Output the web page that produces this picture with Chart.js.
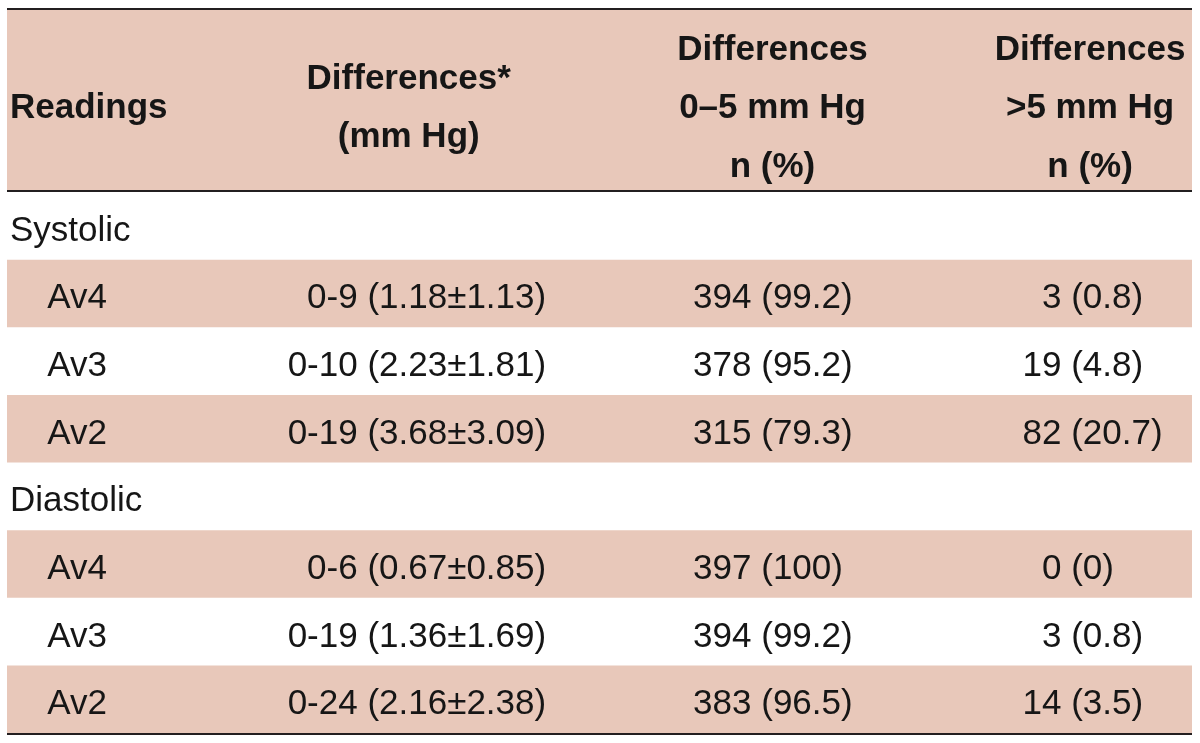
<!DOCTYPE html>
<html>
<head>
<meta charset="utf-8">
<script src="https://cdn.jsdelivr.net/npm/chart.js@4"></script>
<style>
  html, body { margin: 0; padding: 0; background: #fff; }
  #wrap { width: 1200px; height: 743px; }
</style>
</head>
<body>
<div id="wrap"><canvas id="table" width="1200" height="743"></canvas></div>
<script>
// table values
const groups = ["Systolic", "Diastolic"];
const readings = ["Av4", "Av3", "Av2"];
const diffRange = ["0-9", "0-10", "0-19", "0-6", "0-19", "0-24"];
const diffMean = [1.18, 2.23, 3.68, 0.67, 1.36, 2.16];
const diffSD = [1.13, 1.81, 3.09, 0.85, 1.69, 2.38];
const within5N = [394, 378, 315, 397, 394, 383];
const within5Pct = [99.2, 95.2, 79.3, 100, 99.2, 96.5];
const over5N = [3, 19, 82, 0, 3, 14];
const over5Pct = [0.8, 4.8, 20.7, 0, 0.8, 3.5];

const headers = [
  ["Readings"],
  ["Differences*", "(mm Hg)"],
  ["Differences", "0\u20135 mm Hg", "n (%)"],
  ["Differences", ">5 mm Hg", "n (%)"],
];

// rows: one label row per group, then one row per reading
const rowLabels = [];
const rowData = [];
groups.forEach((g, gi) => {
  rowLabels.push(g);
  rowData.push(null);
  readings.forEach((r, ri) => {
    rowLabels.push(r);
    rowData.push(gi * readings.length + ri);
  });
});

const BAND = "#e8c8ba";
const INK = "#161616";
const RULE = "#231f20";
const FONT = "'Liberation Sans', Arial, sans-serif";

// where things sit, in x-scale units (0-100 across the table)
const layout = {
  headerHeight: 183,
  headerLineGap: 58.5,
  groupX: 0.25,
  readingX: 3.4,
  rangeRight: 45.5,
  within5Left: 57.9,
  over5Paren: 89.8,
  headerX: [0.25, 33.9, 64.6, 91.4],
  headerAlign: ["left", "center", "center", "center"],
};

const tablePlugin = {
  id: "tableText",
  afterDraw(chart) {
    const {ctx, chartArea, scales: {x, y}} = chart;
    const top = chartArea.top - layout.headerHeight;
    ctx.save();

    // header band
    ctx.fillStyle = BAND;
    ctx.fillRect(chartArea.left, top, chartArea.right - chartArea.left, layout.headerHeight);

    // rules
    ctx.strokeStyle = RULE;
    ctx.lineWidth = 2;
    [top, chartArea.top - 1, chartArea.bottom + 1].forEach((ry) => {
      ctx.beginPath();
      ctx.moveTo(chartArea.left, ry);
      ctx.lineTo(chartArea.right, ry);
      ctx.stroke();
    });

    // header text
    ctx.fillStyle = INK;
    ctx.font = "bold 35px " + FONT;
    ctx.textBaseline = "alphabetic";
    const mid = (top + chartArea.top) / 2 + 17.5;
    headers.forEach((lines, ci) => {
      ctx.textAlign = layout.headerAlign[ci];
      lines.forEach((txt, li) => {
        const ty = mid + (li - (lines.length - 1) / 2) * layout.headerLineGap;
        ctx.fillText(txt, x.getPixelForValue(layout.headerX[ci]), ty);
      });
    });

    // body text
    ctx.font = "35px " + FONT;
    rowLabels.forEach((label, i) => {
      const ty = y.getPixelForValue(i) + 15;
      const k = rowData[i];
      if (k === null) {
        ctx.textAlign = "left";
        ctx.fillText(label, x.getPixelForValue(layout.groupX), ty);
        return;
      }
      ctx.textAlign = "left";
      ctx.fillText(label, x.getPixelForValue(layout.readingX), ty);

      ctx.textAlign = "right";
      ctx.fillText(diffRange[k] + " (" + diffMean[k].toFixed(2) + "\u00b1" + diffSD[k].toFixed(2) + ")",
        x.getPixelForValue(layout.rangeRight), ty);

      ctx.textAlign = "left";
      ctx.fillText(within5N[k] + " (" + within5Pct[k] + ")", x.getPixelForValue(layout.within5Left), ty);

      const px = x.getPixelForValue(layout.over5Paren);
      ctx.textAlign = "right";
      ctx.fillText(over5N[k] + " ", px, ty);
      ctx.textAlign = "left";
      ctx.fillText("(" + over5Pct[k] + ")", px, ty);
    });

    ctx.restore();
  },
};

new Chart(document.getElementById("table"), {
  type: "bar",
  data: {
    labels: rowLabels,
    datasets: [
      {
        label: "shaded rows",
        // every other reading row gets a band across the full width
        data: rowLabels.map((_, i) => (i % 2 === 1 ? [0, 100] : null)),
        backgroundColor: BAND,
        borderWidth: 0,
        barPercentage: 1,
        categoryPercentage: 1,
        inflateAmount: 0,
      },
    ],
  },
  options: {
    indexAxis: "y",
    responsive: false,
    animation: false,
    events: [],
    layout: {padding: {top: 192, bottom: 10, left: 7, right: 8}},
    plugins: {legend: {display: false}, tooltip: {enabled: false}},
    scales: {
      x: {type: "linear", min: 0, max: 100, display: false},
      y: {type: "category", display: false, offset: true},
    },
  },
  plugins: [tablePlugin],
});
</script>
</body>
</html>
